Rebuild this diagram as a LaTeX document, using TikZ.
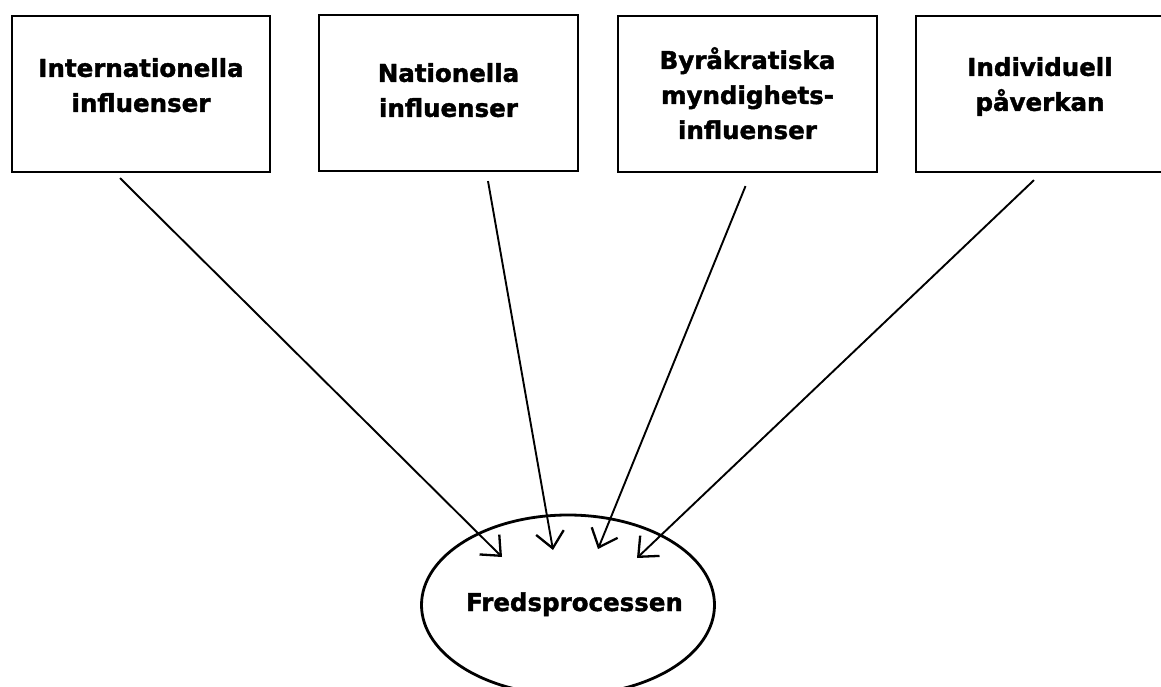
\documentclass[tikz,border=0pt]{standalone}
\usepackage{fontspec}
\newfontfamily\lblfont[BoldFeatures={FakeBold=1.6}]{DejaVu Sans}
\usetikzlibrary{arrows.meta,shapes.geometric}
\begin{document}
\begin{tikzpicture}[x=1pt,y=-1pt,
  box/.style={draw, line width=2.2pt, minimum height=156pt, inner sep=0pt},
  lbl/.style={font=\lblfont\bfseries\fontsize{24.5}{35}\selectfont, align=center, inner sep=0pt, anchor=north},
  arr/.style={line width=1.9pt, -{Straight Barb[length=16pt,width=28pt,line width=2.3pt]}}]
\useasboundingbox (0,0) rectangle (1161,687);
\clip (0,0) rectangle (1161,687);
\fill[white] (0,0) rectangle (1161,687);
% boxes
\node[box, minimum width=258pt] (b1) at (141,94) {};
\node[box, minimum width=259pt] (b2) at (448.5,93) {};
\node[box, minimum width=259pt] (b3) at (747.5,94) {};
\node[box, minimum width=248pt] (b4) at (1040,94) {};
% labels
\node[lbl] (l1) at (141,58) {Internationella\\influenser};
\node[lbl] (l2) at (448.5,63) {Nationella\\influenser};
\node[lbl] (l3) at (747.5,47) {Byråkratiska\\myndighets-\\influenser};
\node[lbl] (l4) at (1040,57) {Individuell\\påverkan};
% ellipse
\node[ellipse, draw, line width=2.8pt, minimum width=293pt, minimum height=180pt, inner sep=0pt] (fp) at (568,605) {};
\node[font=\lblfont\bfseries\fontsize{24.5}{30}\selectfont, inner sep=0pt, anchor=base] (fpt) at (574.5,611) {Fredsprocessen};
% arrows
\draw[arr] ([xshift=-21pt,yshift=-5pt]b1.south) -- ([xshift=-66pt,yshift=48pt]fp.center);
\draw[arr] ([xshift=39.5pt,yshift=-9pt]b2.south) -- ([xshift=-15pt,yshift=55pt]fp.center);
\draw[arr] ([xshift=-2pt,yshift=-13pt]b3.south) -- ([xshift=30pt,yshift=56pt]fp.center);
\draw[arr] ([xshift=-6pt,yshift=-7pt]b4.south) -- ([xshift=69pt,yshift=47pt]fp.center);
\end{tikzpicture}
\end{document}
